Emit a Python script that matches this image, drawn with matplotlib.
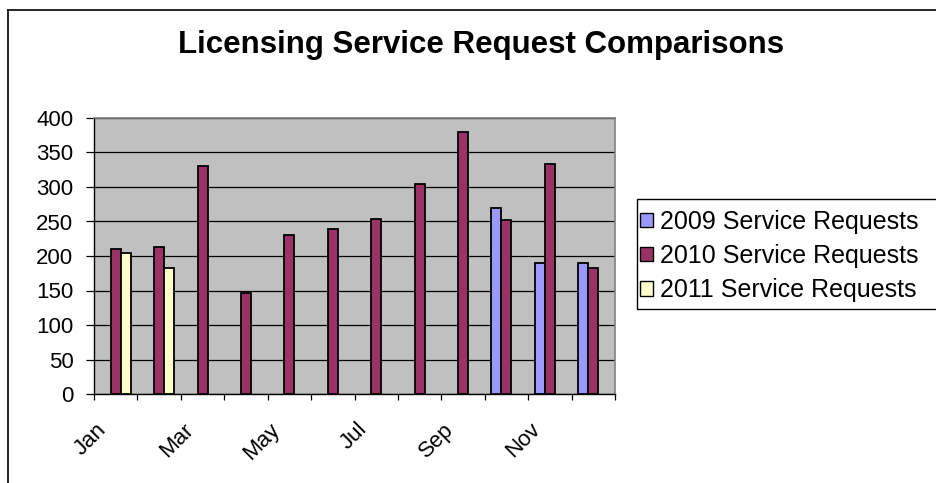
import numpy as np
import matplotlib
matplotlib.use("Agg")
import matplotlib.pyplot as plt
from matplotlib.patches import Patch, Rectangle
from matplotlib.lines import Line2D
from matplotlib.transforms import ScaledTranslation

plt.rcParams['font.family'] = ['Liberation Sans', 'DejaVu Sans']

months = ['Jan', 'Feb', 'Mar', 'Apr', 'May', 'Jun',
          'Jul', 'Aug', 'Sep', 'Oct', 'Nov', 'Dec']
req_2009 = [np.nan] * 9 + [270, 190, 190]
req_2010 = [210, 213, 331, 146, 231, 239, 254, 305, 380, 252, 333, 182]
req_2011 = [205, 182] + [np.nan] * 10
series_names = ['2009 Service Requests', '2010 Service Requests', '2011 Service Requests']
colors = ['#9999FF', '#993366', '#FFFFCC']

W, H = 936, 483
fig = plt.figure(figsize=(W / 100, H / 100), dpi=100)

# outer chart area border (only top and left visible)
fig.add_artist(Line2D([8 / W, 8 / W], [0, 1 - 10 / H], transform=fig.transFigure,
                      color='black', lw=1.2))
fig.add_artist(Line2D([8 / W, 1], [1 - 10 / H, 1 - 10 / H], transform=fig.transFigure,
                      color='black', lw=1.2))

ax = fig.add_axes([94 / W, (H - 394) / H, (615 - 94) / W, (394 - 118) / H])
ax.set_facecolor('#C0C0C0')

x = np.arange(len(months))
bw = 0.23
for i, (vals, c) in enumerate(zip([req_2009, req_2010, req_2011], colors)):
    ax.bar(x + (i - 1) * bw, vals, width=bw, color=c, edgecolor='black', linewidth=1.3,
           zorder=3)

ax.set_xlim(-0.5, len(months) - 0.5)
ax.set_ylim(0, 400)
ax.set_yticks(np.arange(0, 401, 50))
ax.yaxis.grid(True, color='black', linewidth=0.9)
ax.set_axisbelow(True)
ax.tick_params(axis='y', direction='out', length=5.8, width=0.9, pad=9, labelsize=16)

ax.set_xticks(x[::2])
ax.set_xticklabels(months[::2], rotation=45, ha='right', va='top', rotation_mode='anchor',
                   fontsize=16)
ax.set_xticks(np.arange(-0.5, len(months)), minor=True)
ax.tick_params(axis='x', which='major', length=0, pad=18)
ax.tick_params(axis='x', which='minor', direction='out', length=4.5, width=0.9)
off = ScaledTranslation(-20 / 100, 0, fig.dpi_scale_trans)
for lab in ax.get_xticklabels():
    lab.set_transform(lab.get_transform() + off)

for s in ['left', 'bottom']:
    ax.spines[s].set_color('black')
    ax.spines[s].set_linewidth(1.0)
for s in ['top', 'right']:
    ax.spines[s].set_color('#808080')
    ax.spines[s].set_linewidth(1.2)

fig.text(481 / W, 1 - 45 / H, 'Licensing Service Request Comparisons',
         ha='center', va='center', fontsize=22.5, fontweight='bold')

# legend box
fig.add_artist(Rectangle((637 / W, (H - 309) / H), (W - 637 + 5) / W, 110 / H,
                         transform=fig.transFigure, facecolor='white', edgecolor='black',
                         lw=1.0, clip_on=False))
handles = [Patch(facecolor=c, edgecolor='black', linewidth=1.0) for c in colors]
fig.legend(handles, series_names, loc='upper left',
           bbox_to_anchor=(640 / W, 1 - 210 / H), borderaxespad=0, borderpad=0,
           frameon=False, fontsize=18, handlelength=0.5, handleheight=0.5,
           handletextpad=0.3, labelspacing=0.41)

fig.savefig('out.png', dpi=100)
